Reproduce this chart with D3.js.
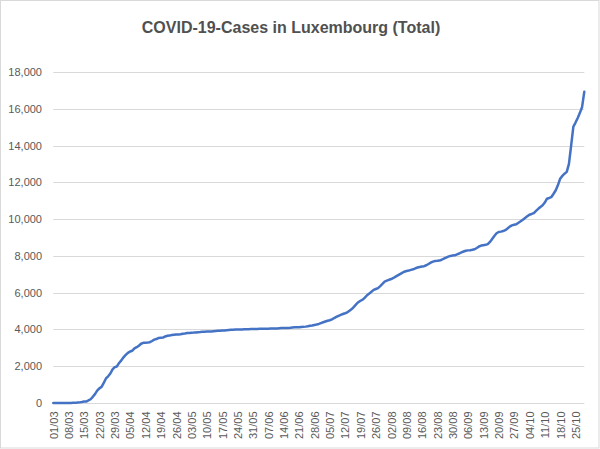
<!DOCTYPE html>
<html>
<head>
<meta charset="utf-8">
<script src="https://cdn.jsdelivr.net/npm/d3@7/dist/d3.min.js"></script>
<style>
  html, body { margin: 0; padding: 0; background: #fff; }
  svg { display: block; }
</style>
</head>
<body>
<svg id="chart" width="600" height="449"></svg>
<script>
const title = "COVID-19-Cases in Luxembourg (Total)";
const startDate = "2020-03-01";

// Cumulative cases per day
const march = [1, 1, 1, 1, 2, 3, 4, 5, 5, 7, 7, 26, 34, 51, 77, 81, 140, 203, 335, 484, 670, 798, 875, 1099, 1333, 1453, 1605, 1831, 1950, 1988, 2178];
const april = [2319, 2487, 2612, 2729, 2804, 2843, 2970, 3034, 3115, 3223, 3270, 3281, 3292, 3307, 3373, 3444, 3480, 3537, 3550, 3558, 3618, 3654, 3665, 3695, 3711, 3723, 3729, 3741, 3769, 3784];
const may = [3802, 3811, 3824, 3828, 3840, 3851, 3859, 3871, 3877, 3886, 3888, 3894, 3904, 3915, 3923, 3930, 3945, 3947, 3958, 3971, 3980, 3990, 3993, 3995, 3997, 4000, 4008, 4012, 4016, 4018, 4019];
const june = [4020, 4024, 4032, 4035, 4039, 4040, 4040, 4045, 4047, 4052, 4055, 4063, 4072, 4075, 4078, 4085, 4093, 4104, 4113, 4120, 4123, 4133, 4140, 4153, 4170, 4196, 4216, 4245, 4269, 4299];
const july = [4345, 4390, 4430, 4470, 4500, 4550, 4620, 4680, 4740, 4790, 4840, 4880, 4930, 5020, 5110, 5230, 5360, 5480, 5560, 5620, 5730, 5860, 5950, 6050, 6150, 6200, 6250, 6360, 6480, 6600, 6650];
const august = [6700, 6740, 6800, 6870, 6940, 7010, 7080, 7140, 7180, 7200, 7240, 7270, 7320, 7370, 7400, 7420, 7440, 7490, 7560, 7630, 7690, 7720, 7730, 7745, 7790, 7850, 7910, 7960, 8000, 8015, 8030];
const september = [8080, 8130, 8190, 8240, 8280, 8300, 8310, 8330, 8360, 8430, 8510, 8560, 8580, 8600, 8640, 8760, 8920, 9080, 9230, 9300, 9320, 9350, 9400, 9490, 9590, 9660, 9690, 9720, 9800, 9880];
const october = [9970, 10060, 10150, 10240, 10280, 10330, 10450, 10560, 10660, 10750, 10900, 11110, 11150, 11200, 11380, 11570, 11850, 12200, 12350, 12470, 12570, 13000, 14000, 15020, 15250, 15500, 15780, 16100, 16930];

const xTickLabels = ["01/03","08/03","15/03","22/03","29/03","05/04","12/04","19/04","26/04","03/05","10/05","17/05","24/05","31/05","07/06","14/06","21/06","28/06","05/07","12/07","19/07","26/07","02/08","09/08","16/08","23/08","30/08","06/09","13/09","20/09","27/09","04/10","11/10","18/10","25/10"];
const yTicks = [0, 2000, 4000, 6000, 8000, 10000, 12000, 14000, 16000, 18000];

(function () {
const values = [].concat(march, april, may, june, july, august, september, october);
const fmtDay = d3.timeFormat("%d/%m");
const start = d3.timeParse("%Y-%m-%d")(startDate);
const categories = values.map((v, i) => fmtDay(d3.timeDay.offset(start, i)));
const data = values.map((v, i) => ({ cat: categories[i], v }));

const svg = d3.select("#chart");
const W = 600, H = 449;
const mLeft = 53.3, mRight = 584.3, mTop = 72, mBottom = 403;

// outer border
svg.append("rect")
  .attr("x", 0.5).attr("y", 0.5).attr("width", W - 1.5).attr("height", H - 1.5)
  .attr("fill", "#fff").attr("stroke", "#d9d9d9").attr("stroke-width", 1);

const x = d3.scalePoint().domain(categories).range([mLeft, mRight]);
const y = d3.scaleLinear().domain([0, 18000]).range([mBottom, mTop]);

// gridlines
svg.append("g")
  .selectAll("line").data(yTicks).join("line")
  .attr("x1", mLeft).attr("x2", mRight)
  .attr("y1", d => Math.round(y(d)) + 0.5).attr("y2", d => Math.round(y(d)) + 0.5)
  .attr("stroke", "#d9d9d9").attr("stroke-width", 1);

// y axis labels
const yAxis = d3.axisLeft(y).tickValues(yTicks).tickFormat(d3.format(",")).tickSize(0).tickPadding(0);
const gy = svg.append("g").attr("transform", `translate(${42},0)`).call(yAxis);
gy.select(".domain").remove();
gy.selectAll("text")
  .attr("font-family", "Liberation Sans, Arial, sans-serif")
  .attr("font-size", "11px")
  .attr("fill", "#595959");

// x axis labels
const xAxis = d3.axisBottom(x).tickValues(xTickLabels).tickSize(0).tickPadding(0);
const gx = svg.append("g").attr("transform", `translate(0,${mBottom})`).call(xAxis);
gx.select(".domain").remove();
gx.selectAll("text")
  .attr("font-family", "Liberation Sans, Arial, sans-serif")
  .attr("font-size", "11px")
  .attr("fill", "#595959")
  .attr("text-anchor", "end")
  .attr("transform", "rotate(-90)")
  .attr("x", -8.5)
  .attr("y", 0)
  .attr("dy", "0.35em");

// line
const line = d3.line().x(d => x(d.cat)).y(d => y(d.v));
svg.append("path")
  .datum(data)
  .attr("d", line)
  .attr("fill", "none")
  .attr("stroke", "#4472c4")
  .attr("stroke-width", 2.5)
  .attr("stroke-linejoin", "round")
  .attr("stroke-linecap", "round");

// title
svg.append("text")
  .attr("x", 291).attr("y", 33)
  .attr("text-anchor", "middle")
  .attr("font-family", "Liberation Sans, Arial, sans-serif")
  .attr("font-weight", "bold")
  .attr("font-size", "16px")
  .attr("fill", "#505050")
  .text(title);
})();
</script>
</body>
</html>
